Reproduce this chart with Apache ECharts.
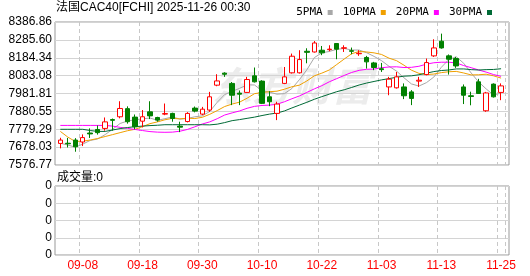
<!DOCTYPE html>
<html><head><meta charset="utf-8">
<script src="https://cdn.jsdelivr.net/npm/echarts@6/dist/echarts.min.js"></script>
<style>html,body{margin:0;padding:0;background:#fff}#c{width:530px;height:276px}</style>
</head><body><div id="c"></div>
<script>
const dates = ['09-03','09-04','09-05','09-08','09-09','09-10','09-11','09-12','09-15','09-16','09-17','09-18','09-19','09-22','09-23','09-24','09-25','09-26','09-29','09-30',
'10-01','10-02','10-03','10-06','10-07','10-08','10-09','10-10','10-13','10-14','10-15','10-16','10-17','10-20','10-21','10-22','10-23','10-24','10-27','10-28','10-29','10-30','10-31',
'11-03','11-04','11-05','11-06','11-07','11-10','11-11','11-12','11-13','11-14','11-17','11-18','11-19','11-20','11-21','11-24','11-25'];
const openV  = [7699,7700,7718,7707,7758,7778,7784,7834,7850,7896,7848,7825,7878,7846,7865,7869,7797,7823,7899,7865,7888,8029,8097,8039,7984,7988,8082,8052,7963,7869,8039,8099,8099,8221,8217,8227,8230,8265,8238,8224,8207,8186,8155,8122,8019,8014,8019,7991,8052,8089,8195,8278,8195,8180,8019,7969,8048,7884,8035,7988];
const closeV = [7718,7697,7680,7732,7753,7760,7821,7830,7897,7822,7793,7850,7855,7831,7868,7840,7791,7869,7882,7893,7963,8053,8091,7972,7978,8061,8048,7926,7935,7922,8076,8193,8174,8215,8268,8212,8233,8233,8241,8221,8210,8161,8129,8117,8063,8076,7969,7954,8057,8157,8240,8240,8176,8138,7972,7965,7982,7985,7963,8025];
const lowV   = [7671,7676,7652,7684,7730,7749,7771,7771,7841,7811,7779,7790,7837,7822,7859,7822,7763,7818,7875,7859,7878,8023,8076,7916,7916,7986,8044,7922,7910,7831,8035,8095,8095,8153,8214,8199,8221,8176,8217,8204,8195,8123,8114,8104,7972,8010,7950,7916,8019,8085,8189,8236,8089,8127,7922,7915,7980,7878,7959,7944];
const highV  = [7731,7730,7729,7750,7784,7801,7846,7840,7938,7909,7863,7888,7938,7850,7925,7873,7822,7876,7908,7906,7991,8091,8102,8047,7999,8076,8129,8057,7995,7935,8132,8208,8227,8238,8279,8251,8255,8266,8255,8242,8227,8195,8161,8155,8076,8104,8039,8001,8076,8180,8289,8321,8203,8189,8033,7992,8065,7991,8039,8039];
const ma5  = [7700,7690,7678,7695,7716,7724,7749,7779,7812,7826,7833,7838,7843,7830,7839,7849,7837,7840,7850,7855,7880,7932,7976,7994,8011,8031,8030,7997,7990,7978,7981,8010,8060,8116,8185,8212,8220,8232,8237,8228,8228,8213,8192,8168,8136,8109,8071,8036,8024,8043,8075,8130,8174,8190,8153,8098,8047,8008,7973,7984];
const ma10 = [7767,7735,7710,7712,7718,7727,7738,7749,7760,7771,7779,7794,7811,7821,7833,7841,7838,7842,7840,7847,7864,7885,7908,7922,7933,7955,7981,7987,7992,7995,8006,8020,8029,8053,8082,8097,8115,8146,8177,8207,8220,8217,8212,8203,8182,8168,8142,8114,8096,8089,8092,8100,8105,8107,8098,8087,8088,8091,8082,8069];
const ma20 = [7801,7801,7801,7801,7801,7801,7801,7797,7790,7784,7778,7772,7766,7763,7762,7763,7768,7778,7793,7809,7821,7839,7860,7872,7883,7898,7909,7914,7916,7921,7935,7952,7968,7988,8008,8026,8048,8066,8084,8101,8113,8119,8120,8128,8132,8133,8129,8130,8136,8148,8156,8159,8159,8155,8140,8128,8115,8103,8089,8079];
const ma30 = [7779,7779,7779,7779,7772,7767,7767,7775,7783,7789,7794,7797,7800,7802,7805,7805,7805,7805,7805,7805,7804,7808,7817,7828,7834,7841,7848,7857,7865,7871,7883,7900,7916,7932,7949,7964,7978,7992,8003,8016,8030,8041,8050,8059,8066,8074,8080,8082,8088,8097,8106,8112,8115,8121,8121,8117,8115,8117,8118,8122];
const yTickLabels = ['7576.77','7678.03','7779.29','7880.55','7981.81','8083.08','8184.34','8285.60','8386.86'];
const volTickLabels = ['0','0','0','0','0'];
const labelDates = ['09-08','09-18','09-30','10-10','10-22','11-03','11-13','11-25'];
const seriesNames = ['5PMA','10PMA','20PMA','30PMA'];
const titleText = '法国CAC40[FCHI] 2025-11-26 00:30';
const volTitle = '成交量:0';
const watermark = '东方财富';

const yMin = parseFloat(yTickLabels[0]);
const yMax = parseFloat(yTickLabels[yTickLabels.length - 1]);
const yInt = (yMax - yMin) / (yTickLabels.length - 1);
const maColors = ['#a8a8a8', '#f0a000', '#ff00ff', '#006a36'];
const SANS = '"Liberation Sans", Arial, "Noto Sans CJK SC", sans-serif';
const isLabel = (i, v) => labelDates.indexOf(v) >= 0;

const frameL = 55, frameW = 454, mainTop = 22, mainH = 143, volTop = 186, volH = 69;
const dataL = 56.6, dataW = 448.2;

const chart = echarts.init(document.getElementById('c'), null, {renderer: 'canvas'});
const candle = dates.map((d, i) => [openV[i], closeV[i], lowV[i], highV[i]]);
const maSeries = [ma5, ma10, ma20, ma30].map((arr, k) => ({
  name: seriesNames[k], type: 'line', xAxisIndex: 1, yAxisIndex: 1, data: arr,
  symbol: 'none', smooth: false, lineStyle: {width: 1, color: maColors[k]}, itemStyle: {color: maColors[k]},
  silent: true, z: 3
}));

chart.setOption({
  animation: false,
  backgroundColor: '#fff',
  legend: {
    data: seriesNames, right: 33, top: 2, align: 'right', icon: 'rect', itemWidth: 5, itemHeight: 5, itemGap: 10,
    selectedMode: false, textStyle: {fontSize: 11, fontFamily: '"DejaVu Sans Mono", monospace', color: '#000'}
  },
  graphic: [
    {type: 'text', left: 56, top: 2, style: {text: titleText, fontSize: 12, fontFamily: SANS, fill: '#000'}},
    {type: 'text', left: 57, top: 172, style: {text: volTitle, fontSize: 12, fontFamily: SANS, fill: '#000'}},
    {type: 'text', left: 212, top: 66, z: -10, style: {text: watermark, fontSize: 40, fontWeight: 'bold', fontStyle: 'italic', fontFamily: '"Noto Sans CJK SC", sans-serif', fill: '#ececec'}}
  ],
  grid: [
    {left: frameL, top: mainTop, width: frameW, height: mainH, show: true, borderColor: '#999', borderWidth: 1, backgroundColor: 'transparent'},
    {left: dataL, top: mainTop, width: dataW, height: mainH},
    {left: frameL, top: volTop, width: frameW, height: volH, show: true, borderColor: '#999', borderWidth: 1, backgroundColor: 'transparent'},
    {left: dataL, top: volTop, width: dataW, height: volH}
  ],
  xAxis: [
    {gridIndex: 0, type: 'category', data: dates, show: false},
    {gridIndex: 1, type: 'category', data: dates, boundaryGap: true, axisLine: {show: false}, axisTick: {show: false}, axisLabel: {show: false},
     splitLine: {show: true, interval: isLabel, lineStyle: {color: '#c8c8c8', type: [4, 3], width: 1}}},
    {gridIndex: 2, type: 'category', data: dates, show: false},
    {gridIndex: 3, type: 'category', data: dates, boundaryGap: true, axisLine: {show: false}, axisTick: {show: false},
     axisLabel: {show: true, interval: isLabel, color: '#ff0000', fontSize: 12, fontFamily: SANS, margin: 5},
     splitLine: {show: true, interval: isLabel, lineStyle: {color: '#c8c8c8', type: [4, 3], width: 1}}}
  ],
  yAxis: [
    {gridIndex: 0, type: 'value', min: yMin, max: yMax, interval: yInt, axisLine: {show: false}, axisTick: {show: false},
     axisLabel: {margin: 3, fontSize: 12, fontFamily: SANS, color: '#000', formatter: (v, i) => yTickLabels[i]},
     splitLine: {show: true, lineStyle: {color: '#d4d4d4', width: 1}}},
    {gridIndex: 1, type: 'value', min: yMin, max: yMax, interval: yInt, show: false, splitLine: {show: false}},
    {gridIndex: 2, type: 'value', min: 0, max: volTickLabels.length - 1, interval: 1, axisLine: {show: false}, axisTick: {show: false},
     axisLabel: {margin: 3, fontSize: 12, fontFamily: SANS, color: '#000', formatter: (v, i) => volTickLabels[i]},
     splitLine: {show: true, lineStyle: {color: '#d4d4d4', width: 1}}},
    {gridIndex: 3, type: 'value', min: 0, max: 4, show: false, splitLine: {show: false}}
  ],
  series: [
    {type: 'candlestick', name: 'K', xAxisIndex: 1, yAxisIndex: 1, data: candle, barWidth: 5, silent: true, z: 4,
     itemStyle: {color: '#ffffff', color0: '#008000', borderColor: '#ff0000', borderColor0: '#008000', borderWidth: 1}},
    ...maSeries
  ]
});
</script>
</body></html>
